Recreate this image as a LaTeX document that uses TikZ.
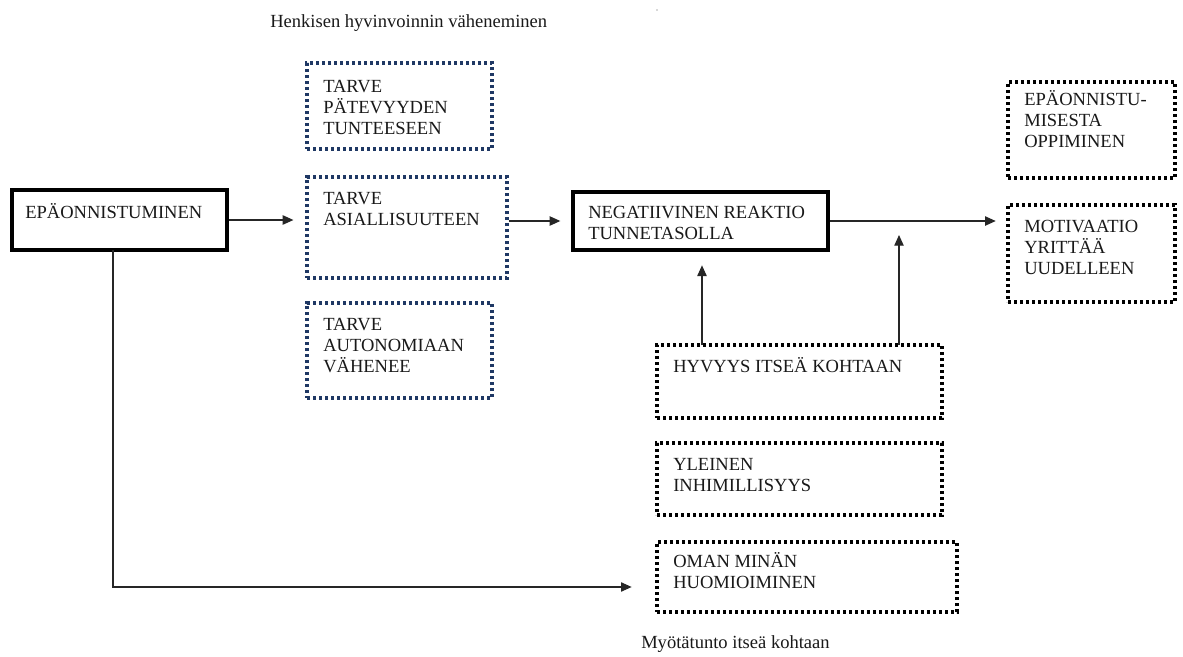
\documentclass[tikz,border=0pt]{standalone}
\usepackage{fontspec}
\setmainfont{Liberation Serif}
\usetikzlibrary{arrows.meta,fit,calc}
\definecolor{navy}{RGB}{31,56,100}
\definecolor{ink}{RGB}{25,25,25}
\newcommand\mltext[1]{\begin{tabular}[t]{@{}l@{}}#1\end{tabular}}
\tikzset{
  thickbox/.style={draw=black, line width=3pt, inner sep=0pt},
  dotbox/.style={draw=black, line width=2.4pt, dash pattern=on 2.4pt off 2.1pt, inner sep=0pt},
  bluebox/.style={dotbox, draw=navy},
  txt/.style={anchor=base west, inner sep=0pt, text=ink, font=\fontsize{13.9}{15.75}\selectfont},
  arr/.style={draw=black!85, line width=0.9pt, -{Triangle[length=8pt,width=7pt]}},
}
\begin{document}
\begin{tikzpicture}[x=0.75pt,y=-0.75pt]
\useasboundingbox (0,0) rectangle (1183,657);
\fill[white] (0,0) rectangle (1183,657);
\fill[gray!60] (657,10) circle (0.9);
% boxes
\node[thickbox, fit={(12,190) (227,250)}] (epa) {};
\node[bluebox, fit={(307,63) (492,149)}] (t1) {};
\node[bluebox, fit={(307,177) (507,278)}] (t2) {};
\node[bluebox, fit={(307,303) (492,398)}] (t3) {};
\node[thickbox, fit={(573,192) (828,250)}] (neg) {};
\node[dotbox, fit={(657,345) (942,418)}] (hyv) {};
\node[dotbox, fit={(657,443) (942,515)}] (yle) {};
\node[dotbox, fit={(657,542) (957,612)}] (oman) {};
\node[dotbox, fit={(1008,82) (1175,178)}] (epo) {};
\node[dotbox, fit={(1008,205) (1175,302)}] (mot) {};
% texts
\node[txt] (title) at (270,27) {Henkisen hyvinvoinnin väheneminen};
\node[txt] (bottom) at (641,648) {Myötätunto itseä kohtaan};
\node[txt] (epatxt) at (25,218) {EPÄONNISTUMINEN};
\node[txt] (t1txt) at (323,92) {\mltext{TARVE\\PÄTEVYYDEN\\TUNTEESEEN}};
\node[txt] (t2txt) at (323,204) {\mltext{TARVE\\ASIALLISUUTEEN}};
\node[txt] (t3txt) at (323,330) {\mltext{TARVE\\AUTONOMIAAN\\VÄHENEE}};
\node[txt] (negtxt) at (588,218) {\mltext{NEGATIIVINEN REAKTIO\\TUNNETASOLLA}};
\node[txt] (hyvtxt) at (673,372) {HYVYYS ITSEÄ KOHTAAN};
\node[txt] (yletxt) at (673,470) {\mltext{YLEINEN\\INHIMILLISYYS}};
\node[txt] (omantxt) at (673,567) {\mltext{OMAN MINÄN\\HUOMIOIMINEN}};
\node[txt] (epotxt) at (1024,105) {\mltext{EPÄONNISTU-\\MISESTA\\OPPIMINEN}};
\node[txt] (mottxt) at (1024,232) {\mltext{MOTIVAATIO\\YRITTÄÄ\\UUDELLEEN}};
% connectors
\coordinate (a1) at (702,345);
\coordinate (a2) at (899,345);
\coordinate (c1) at (113,250);
\coordinate (c2) at (657,587);
\draw[arr, shorten >=9pt] (epa.east) -- (epa.east -| t2.west);
\draw[arr, shorten >=8pt] (neg.west -| t2.east) -- (neg.west);
\draw[arr, shorten >=8pt] (neg.east) -- (neg.east -| mot.west);
\draw[arr, shorten >=10pt] (a1) -- (a1 |- neg.south);
\draw[arr, shorten >=10.5pt] (a2) -- (a2 |- neg.east);
\draw[arr, shorten >=19pt] (c1) |- (c2);
\end{tikzpicture}
\end{document}
